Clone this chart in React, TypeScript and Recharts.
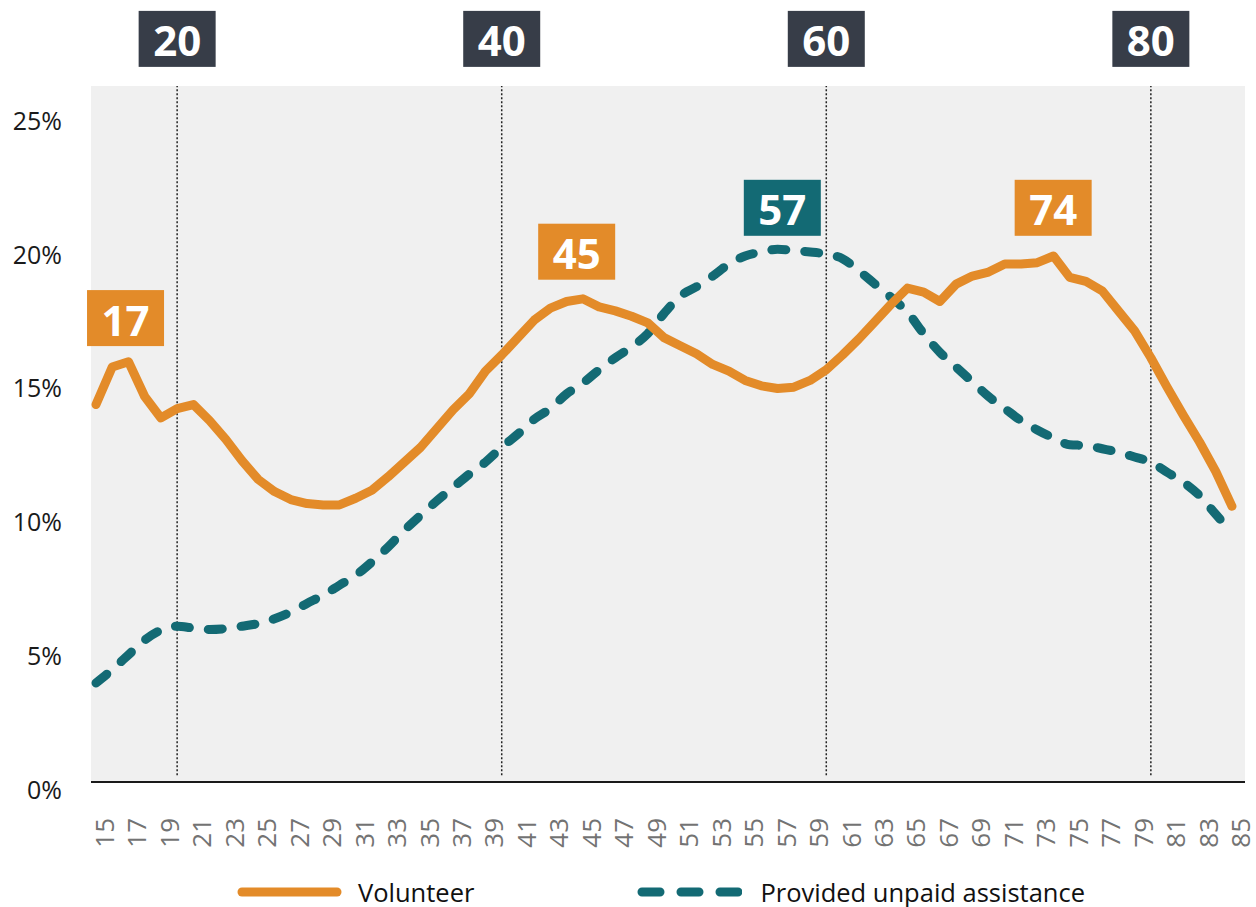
import { LineChart, Line, XAxis, YAxis, CartesianGrid, ReferenceLine, ReferenceDot } from "recharts";

const AGES = [
  15, 16, 17, 18, 19, 20, 21, 22, 23, 24, 25, 26, 27, 28, 29, 30, 31, 32, 33, 34, 35, 36, 37, 38, 39, 40,
  41, 42, 43, 44, 45, 46, 47, 48, 49, 50, 51, 52, 53, 54, 55, 56, 57, 58, 59, 60, 61, 62, 63, 64, 65, 66,
  67, 68, 69, 70, 71, 72, 73, 74, 75, 76, 77, 78, 79, 80, 81, 82, 83, 84, 85,
];

const VOLUNTEER = [
  14.1, 15.5, 15.7, 14.4, 13.6, 13.95, 14.1, 13.5, 12.8, 12.0, 11.3, 10.85, 10.55, 10.4, 10.35, 10.35,
  10.6, 10.9, 11.4, 11.95, 12.5, 13.2, 13.9, 14.5, 15.35, 15.95, 16.6, 17.25, 17.7, 17.95, 18.05, 17.75,
  17.6, 17.4, 17.15, 16.6, 16.3, 16.0, 15.6, 15.35, 15.0, 14.8, 14.7, 14.75, 15.0, 15.4, 15.95, 16.55,
  17.2, 17.85, 18.45, 18.3, 17.95, 18.6, 18.9, 19.05, 19.35, 19.35, 19.4, 19.65, 18.85, 18.7, 18.35,
  17.6, 16.85, 15.85, 14.75, 13.7, 12.7, 11.6, 10.3,
];

const ASSISTANCE = [
  3.7, 4.2, 4.75, 5.3, 5.67, 5.82, 5.75, 5.7, 5.73, 5.82, 5.92, 6.1, 6.35, 6.67, 6.98, 7.35, 7.72, 8.22,
  8.78, 9.4, 9.96, 10.5, 11.0, 11.5, 11.95, 12.5, 13.0, 13.55, 13.95, 14.5, 14.9, 15.4, 15.85, 16.25,
  16.75, 17.5, 18.15, 18.5, 18.9, 19.35, 19.65, 19.8, 19.9, 19.85, 19.8, 19.72, 19.55, 19.1, 18.6, 18.1,
  17.55, 16.75, 16.05, 15.5, 14.95, 14.4, 13.95, 13.5, 13.15, 12.85, 12.6, 12.57, 12.45, 12.32, 12.14,
  11.95, 11.57, 11.2, 10.7, 10.0, 9.33,
];

const X_TICKS = [15, 17, 19, 21, 23, 25, 27, 29, 31, 33, 35, 37, 39, 41, 43, 45, 47, 49, 51, 53, 55, 57, 59, 61, 63, 65, 67, 69, 71, 73, 75, 77, 79, 81, 83, 85];
const Y_TICKS = [0, 5, 10, 15, 20, 25];

// decade markers above the plot
const DECADES = [20, 40, 60, 80];

// peak callouts: label, age position, value position, colour
const PEAKS = [
  { label: "17", x: 16.82, y: 17.33, color: "#e38b29" },
  { label: "45", x: 44.62, y: 19.81, color: "#e38b29" },
  { label: "57", x: 57.29, y: 21.45, color: "#136a74" },
  { label: "74", x: 73.98, y: 21.45, color: "#e38b29" },
];

const ORANGE = "#e38b29";
const TEAL = "#136a74";
const DARK = "#373d48";
const FONT = "'Open Sans', sans-serif";

const data = AGES.map((age, i) => ({ age, volunteer: VOLUNTEER[i], assistance: ASSISTANCE[i] }));

const BoxLabel = ({ cx, cy, text, fill }: { cx: number; cy: number; text: string; fill: string }) => (
  <g>
    <rect x={cx - 38.5} y={cy - 28} width={77} height={56} fill={fill} />
    <text
      x={cx}
      y={cy + 1}
      textAnchor="middle"
      dominantBaseline="central"
      fill="#fff"
      fontFamily={FONT}
      fontWeight={700}
      fontSize={42}
    >
      {text}
    </text>
  </g>
);

const XTick = ({ x, y, payload }: any) => (
  <text
    transform={`translate(${x + 8},${y}) rotate(-90)`}
    textAnchor="end"
    dominantBaseline="central"
    fill="#737373"
    fontFamily={FONT}
    fontSize={26}
  >
    {payload.value}
  </text>
);

const YTick = ({ x, y, payload }: any) => (
  <text x={x} y={y + 7} textAnchor="end" dominantBaseline="central" fill="#1a1a1a" fontFamily={FONT} fontSize={25}>
    {payload.value}%
  </text>
);

export default function App() {
  return (
    <div style={{ position: "absolute", left: 0, top: 0, width: 1256, height: 907, background: "#fff" }}>
      <LineChart width={1256} height={907} data={data} margin={{ top: 86, right: 11, left: 0, bottom: 65 }}>
        <CartesianGrid fill="#f0f0f0" horizontal={false} vertical={false} />
        <XAxis
          dataKey="age"
          type="number"
          domain={[15, 85]}
          ticks={X_TICKS}
          interval={0}
          padding={{ left: 5, right: 13 }}
          height={60}
          tickSize={0}
          tickMargin={36}
          tickLine={false}
          axisLine={{ stroke: "#1a1a1a", strokeWidth: 2 }}
          tick={<XTick />}
        />
        <YAxis
          type="number"
          domain={[0, 26]}
          ticks={Y_TICKS}
          width={91}
          tickSize={0}
          tickMargin={29}
          axisLine={false}
          tickLine={false}
          tick={<YTick />}
        />
        {DECADES.map((d) => (
          <ReferenceLine
            key={d}
            segment={[{ x: d, y: 0.25 }, { x: d, y: 26 }]}
            stroke="#222"
            strokeWidth={1.5}
            strokeDasharray="2 2"
          />
        ))}
        {DECADES.map((d) => (
          <ReferenceDot
            key={`b${d}`}
            x={d}
            y={27.76}
            ifOverflow="visible"
            shape={(p: any) => <BoxLabel cx={p.cx} cy={p.cy} text={String(d)} fill={DARK} />}
          />
        ))}
        <Line
          type="monotone"
          dataKey="assistance"
          stroke={TEAL}
          strokeWidth={9}
          strokeDasharray="14 19"
          strokeLinecap="round"
          dot={false}
          activeDot={false}
          isAnimationActive={false}
        />
        <Line
          type="linear"
          dataKey="volunteer"
          stroke={ORANGE}
          strokeWidth={9}
          strokeLinecap="round"
          strokeLinejoin="round"
          dot={false}
          activeDot={false}
          isAnimationActive={false}
        />
        {PEAKS.map((p) => (
          <ReferenceDot
            key={p.label}
            x={p.x}
            y={p.y}
            ifOverflow="visible"
            shape={(s: any) => <BoxLabel cx={s.cx} cy={s.cy} text={p.label} fill={p.color} />}
          />
        ))}
      </LineChart>
      {/* legend */}
      <div
        style={{
          position: "absolute",
          top: 875,
          left: 237,
          display: "flex",
          alignItems: "center",
          fontFamily: FONT,
          fontSize: 25.5,
          color: "#111",
        }}
      >
        <svg width={105} height={14} style={{ display: "block" }}>
          <line x1={5} y1={7} x2={100} y2={7} stroke={ORANGE} strokeWidth={9} strokeLinecap="round" />
        </svg>
        <span style={{ marginLeft: 16 }}>Volunteer</span>
        <svg width={105} height={14} style={{ display: "block", marginLeft: 163 }}>
          <line
            x1={5}
            y1={7}
            x2={104}
            y2={7}
            stroke={TEAL}
            strokeWidth={9}
            strokeLinecap="round"
            strokeDasharray="18 21"
          />
        </svg>
        <span style={{ marginLeft: 18 }}>Provided unpaid assistance</span>
      </div>
    </div>
  );
}
